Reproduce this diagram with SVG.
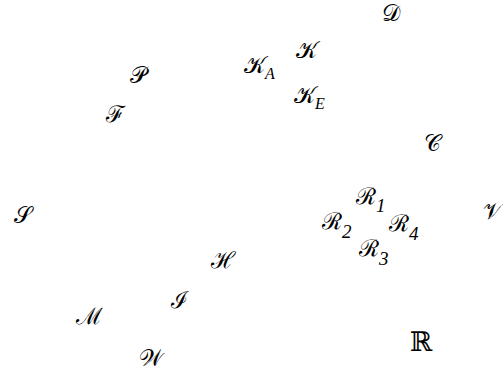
<svg xmlns="http://www.w3.org/2000/svg" width="503" height="382" viewBox="0 0 503 382">
<style>
text{font-family:"DejaVu Serif","Noto Sans","DejaVu Sans",serif;font-size:23px;fill:#000}
.s{font-size:16px;font-family:"Liberation Serif",serif;font-style:italic}
.d{font-size:19px;font-family:"Liberation Serif",serif;font-style:italic}
</style>
<rect width="503" height="382" fill="#fff"/>
<g id="D"><text x="382" y="21">𝒟</text></g>
<g id="K"><text x="296" y="58">𝒦</text></g>
<g id="KA"><text x="244" y="73">𝒦<tspan class="s" dy="6">A</tspan></text></g>
<g id="KE"><text x="294" y="103">𝒦<tspan class="s" dy="6">E</tspan></text></g>
<g id="P"><text x="130" y="83">𝒫</text></g>
<g id="F"><text x="106" y="122">ℱ</text></g>
<g id="C"><text x="424" y="151">𝒞</text></g>
<g id="S"><text x="14" y="223">𝒮</text></g>
<g id="R1"><text x="356" y="204">ℛ<tspan class="d" dy="8">1</tspan></text></g>
<g id="R2"><text x="322" y="229">ℛ<tspan class="d" dy="9">2</tspan></text></g>
<g id="R4"><text x="389" y="231">ℛ<tspan class="d" dy="9">4</tspan></text></g>
<g id="R3"><text x="359" y="256">ℛ<tspan class="d" dy="9">3</tspan></text></g>
<g id="V"><text x="483" y="219">𝒱</text></g>
<g id="H"><text x="211" y="268">ℋ</text></g>
<g id="I"><text x="171" y="308">ℐ</text></g>
<g id="M"><text x="76" y="324">ℳ</text></g>
<g id="W"><text x="139" y="366">𝒲</text></g>
<g id="RR"><text x="410" y="351" style="font-size:27px">ℝ</text></g>
<g id="connectors"></g>
</svg>
